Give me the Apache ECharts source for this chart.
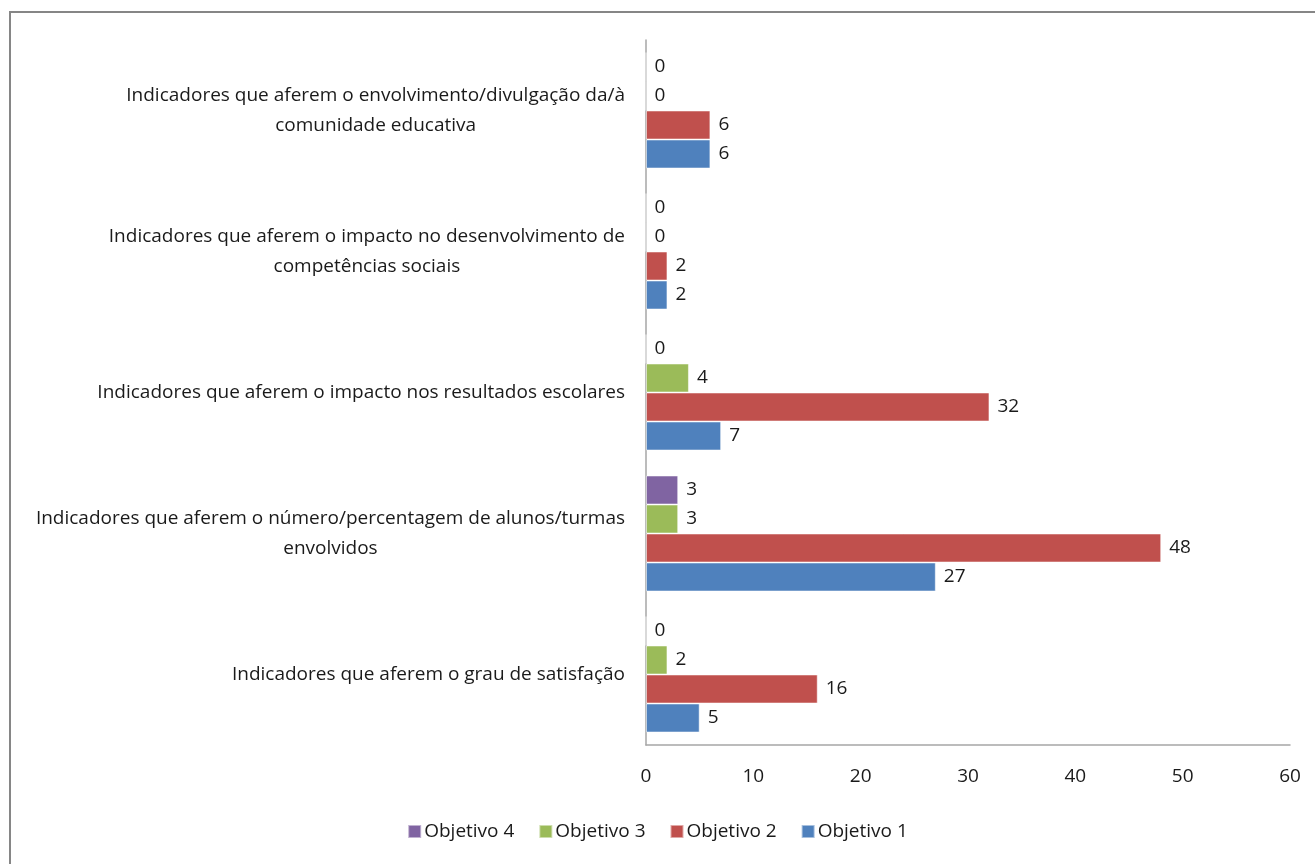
<!DOCTYPE html>
<html>
<head>
<meta charset="utf-8">
<script src="https://cdn.jsdelivr.net/npm/echarts@6/dist/echarts.min.js"></script>
<style>
  html, body { margin: 0; padding: 0; background: #fff; }
  #box1 { width: 1315px; height: 864px; }
</style>
</head>
<body>
<div id="box1"></div>
<script>
// categories, bottom to top as drawn
const aCategories = [
    'Indicadores que aferem o grau de satisfação',
    'Indicadores que aferem o número/percentagem de alunos/turmas\nenvolvidos',
    'Indicadores que aferem o impacto nos resultados escolares',
    'Indicadores que aferem o impacto no desenvolvimento de\ncompetências sociais',
    'Indicadores que aferem o envolvimento/divulgação da/à\ncomunidade educativa',
];
const aObj1 = [5, 27, 7, 2, 6];
const aObj2 = [16, 48, 32, 2, 6];
const aObj3 = [2, 3, 4, 0, 0];
const aObj4 = [0, 3, 0, 0, 0];
const aXTicks = [0, 10, 20, 30, 40, 50, 60];

const sFont = "'Open Sans', sans-serif";

const oCommonPart = {
    type: 'bar',
    barWidth: 29,
    barGap: '0%',
    label: {
        show: true,
        position: 'right',
        distance: 8,
        color: '#1a1a1a',
        fontFamily: sFont,
        fontSize: 19,
    },
    itemStyle: { borderColor: 'rgba(255,255,255,0.5)', borderWidth: 1 },
};

// ECharts stacks the first series on top in a horizontal bar group, so Objetivo 4 goes first
const series = [
    { ...oCommonPart, name: 'Objetivo 4', data: aObj4, itemStyle: { ...oCommonPart.itemStyle, color: '#8064a2' } },
    { ...oCommonPart, name: 'Objetivo 3', data: aObj3, itemStyle: { ...oCommonPart.itemStyle, color: '#9bbb59' } },
    { ...oCommonPart, name: 'Objetivo 2', data: aObj2, itemStyle: { ...oCommonPart.itemStyle, color: '#c0504d' } },
    { ...oCommonPart, name: 'Objetivo 1', data: aObj1, itemStyle: { ...oCommonPart.itemStyle, color: '#4f81bd' } },
];

const myChart = echarts.init(document.getElementById('box1'));
const option = {
    animation: false,
    textStyle: { fontFamily: sFont },
    graphic: [{
        type: 'rect',
        shape: { x: 10, y: 12, width: 1320, height: 870 },
        style: { fill: 'none', stroke: '#868686', lineWidth: 2 },
        silent: true,
    }],
    grid: { left: 646, right: 25, top: 40, bottom: 119 },
    legend: {
        data: ['Objetivo 4', 'Objetivo 3', 'Objetivo 2', 'Objetivo 1'],
        bottom: 18,
        left: 'center',
        itemWidth: 13,
        itemHeight: 13,
        itemGap: 24,
        icon: 'rect',
        textStyle: { fontFamily: sFont, fontSize: 19, color: '#1a1a1a', padding: [0, 0, 0, -2] },
    },
    xAxis: {
        type: 'value',
        min: aXTicks[0],
        max: aXTicks[aXTicks.length - 1],
        interval: 10,
        axisLine: { show: true, lineStyle: { color: '#a6a6a6', width: 1.5 } },
        axisTick: { show: false },
        splitLine: { show: false },
        axisLabel: { margin: 22, color: '#1a1a1a', fontFamily: sFont, fontSize: 19 },
    },
    yAxis: {
        type: 'category',
        data: aCategories,
        axisLine: { show: true, lineStyle: { color: '#a6a6a6', width: 1.5 } },
        axisTick: { show: false },
        axisLabel: {
            margin: 21,
            color: '#1a1a1a',
            fontFamily: sFont,
            fontSize: 19,
            lineHeight: 30,
            formatter: s => s.split('\n').map(l => `{c|${l}}`).join('\n'),
            rich: { c: { align: 'center', fontFamily: sFont, fontSize: 19, lineHeight: 30, color: '#1a1a1a' } },
        },
    },
    series,
};
myChart.setOption(option);
</script>
</body>
</html>
